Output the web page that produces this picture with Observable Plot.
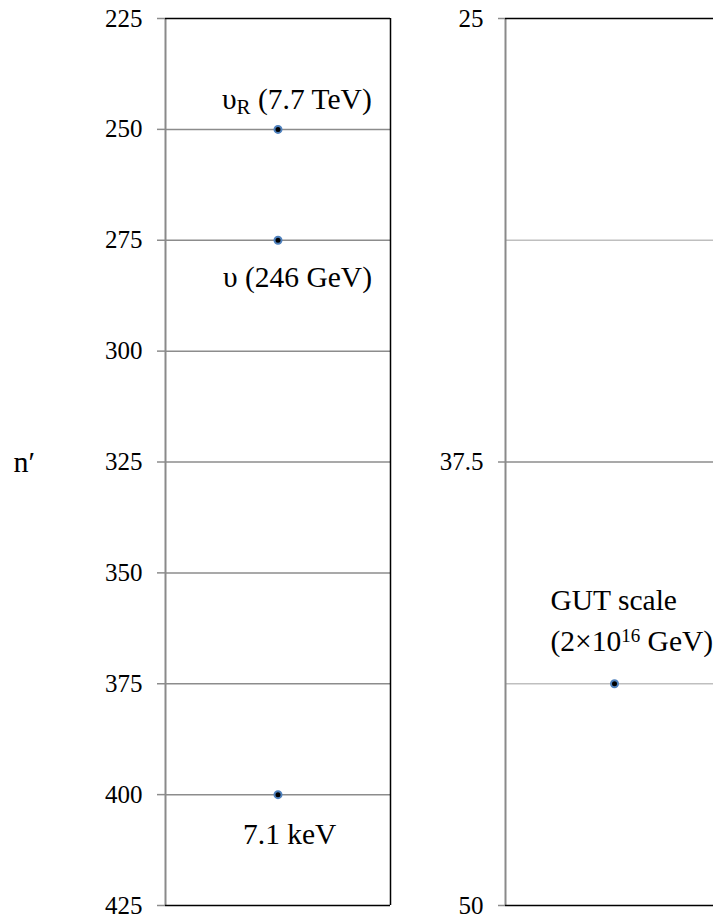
<!DOCTYPE html>
<html>
<head>
<meta charset="utf-8">
<script src="https://cdn.jsdelivr.net/npm/d3@7"></script>
<script src="https://cdn.jsdelivr.net/npm/@observablehq/plot@0.6"></script>
<style>
  html, body { margin: 0; padding: 0; background: #fff; }
  body { width: 713px; height: 917px; overflow: hidden; position: relative; font-family: "Liberation Serif", "DejaVu Serif", serif; }
  #left, #right { position: absolute; top: 0; }
  #left { left: 0; width: 400px; }
  #right { left: 400px; width: 323px; }
  svg { max-width: none !important; height: 917px !important; }
  svg, svg text, svg tspan { font-family: "Liberation Serif", "DejaVu Serif", serif !important; }
</style>
</head>
<body>
<div id="left"></div>
<div id="right"></div>
<script>
// ---- data ----
const yLabel = "n′";

const leftTicks = [225, 250, 275, 300, 325, 350, 375, 400, 425];
const leftGrid = [250, 275, 300, 325, 350, 375, 400];
const leftPoints = [250, 275, 400];
const leftLabels = ["υ_R (7.7 TeV)", "υ (246 GeV)", "7.1 keV"];

const rightTicks = [25, 37.5, 50];
const rightMajorGrid = [37.5];
const rightMinorGrid = [31.25, 43.75];
const rightPoints = [43.75];
const rightLabels = ["GUT scale", "(2×10^16 GeV)"];

const FONT = "'Liberation Serif', 'DejaVu Serif', serif";
const H = 917;
const LFS = 29.5;

// turn "_X" into subscripts and "^NN" into superscripts
function richify(svg) {
  d3.select(svg).selectAll("text").each(function () {
    const t = this.textContent;
    if (!/[_^]/.test(t)) return;
    const parts = t.split(/([_^][^\s]+?)(?=\s|$)/);
    const sel = d3.select(this);
    sel.text(null);
    let shift = 0;
    for (const p of parts) {
      if (!p) continue;
      if (p[0] === "_" || p[0] === "^") {
        const s = p[0] === "_" ? 5 : -9;
        sel.append("tspan").attr("dy", s - shift).attr("font-size", p[0] === "_" ? 21 : 19).text(p.slice(1));
        shift = s;
      } else {
        sel.append("tspan").attr("dy", -shift).text(p);
        shift = 0;
      }
    }
  });
  return svg;
}

// ---- left panel ----
const left = Plot.plot({
  width: 400,
  height: H,
  marginLeft: 165,
  marginRight: 10,
  marginTop: 18,
  marginBottom: 12,
  style: { fontFamily: FONT, background: "transparent", overflow: "visible" },
  x: { domain: [0, 1], axis: null },
  y: { domain: [225, 425], reverse: true, axis: null },
  marks: [
    Plot.ruleY(leftGrid, { stroke: "#8c8c8c", strokeWidth: 1.5, strokeOpacity: 1 }),
    Plot.axisY(leftTicks, {
      anchor: "left", tickSize: 8, tickPadding: 15, stroke: "#8c8c8c", strokeWidth: 1.5,
      fill: "#000", fontSize: 25, fontFamily: FONT, tickFormat: d => String(d), label: null
    }),
    Plot.ruleX([0], { stroke: "#8a8a8a", strokeWidth: 2 }),
    Plot.ruleX([1], { stroke: "#000", strokeWidth: 1.5 }),
    Plot.ruleY([225, 425], { stroke: "#000", strokeWidth: 1.5 }),
    Plot.dot(leftPoints, { x: () => 0.5, y: d => d, r: 3.5, fill: "#000", stroke: "#4f81bd", strokeWidth: 2 }),
    Plot.text([leftLabels[0]], { x: () => 0.5, y: () => leftPoints[0], text: d => d, textAnchor: "start", dx: -56, dy: -30, fontSize: LFS, fontFamily: FONT, fill: "#000" }),
    Plot.text([leftLabels[1]], { x: () => 0.5, y: () => leftPoints[1], text: d => d, textAnchor: "start", dx: -55, dy: 37, fontSize: LFS, fontFamily: FONT, fill: "#000" }),
    Plot.text([leftLabels[2]], { x: () => 0.5, y: () => leftPoints[2], text: d => d, textAnchor: "start", dx: -35, dy: 40, fontSize: LFS, fontFamily: FONT, fill: "#000" }),
    Plot.text([yLabel], { frameAnchor: "left", text: d => d, textAnchor: "start", dx: -152, dy: 0, fontSize: 30, fontFamily: FONT, fill: "#000" })
  ]
});
document.getElementById("left").append(richify(left));

// ---- right panel ----
const right = Plot.plot({
  width: 323,
  height: H,
  marginLeft: 105,
  marginRight: 0,
  marginTop: 18,
  marginBottom: 12,
  style: { fontFamily: FONT, background: "transparent", overflow: "visible" },
  x: { domain: [0, 1], axis: null },
  y: { domain: [25, 50], reverse: true, axis: null },
  marks: [
    Plot.ruleY(rightMinorGrid, { stroke: "#bfbfbf", strokeWidth: 1.5 }),
    Plot.ruleY(rightMajorGrid, { stroke: "#8c8c8c", strokeWidth: 1.5 }),
    Plot.axisY(rightTicks, {
      anchor: "left", tickSize: 7, tickPadding: 15, stroke: "#8c8c8c", strokeWidth: 1.5,
      fill: "#000", fontSize: 25, fontFamily: FONT, tickFormat: d => String(d), label: null
    }),
    Plot.ruleX([0], { stroke: "#8a8a8a", strokeWidth: 2 }),
    Plot.ruleX([1], { stroke: "#000", strokeWidth: 1.5 }),
    Plot.ruleY([25, 50], { stroke: "#000", strokeWidth: 1.5 }),
    Plot.dot(rightPoints, { x: () => 0.5, y: d => d, r: 3.5, fill: "#000", stroke: "#4f81bd", strokeWidth: 2 }),
    Plot.text([rightLabels[0]], { x: () => 0.5, y: () => rightPoints[0], text: d => d, textAnchor: "start", dx: -64, dy: -83, fontSize: LFS, fontFamily: FONT, fill: "#000" }),
    Plot.text([rightLabels[1]], { x: () => 0.5, y: () => rightPoints[0], text: d => d, textAnchor: "start", dx: -64, dy: -42, fontSize: LFS, fontFamily: FONT, fill: "#000" })
  ]
});
document.getElementById("right").append(richify(right));
</script>
</body>
</html>
